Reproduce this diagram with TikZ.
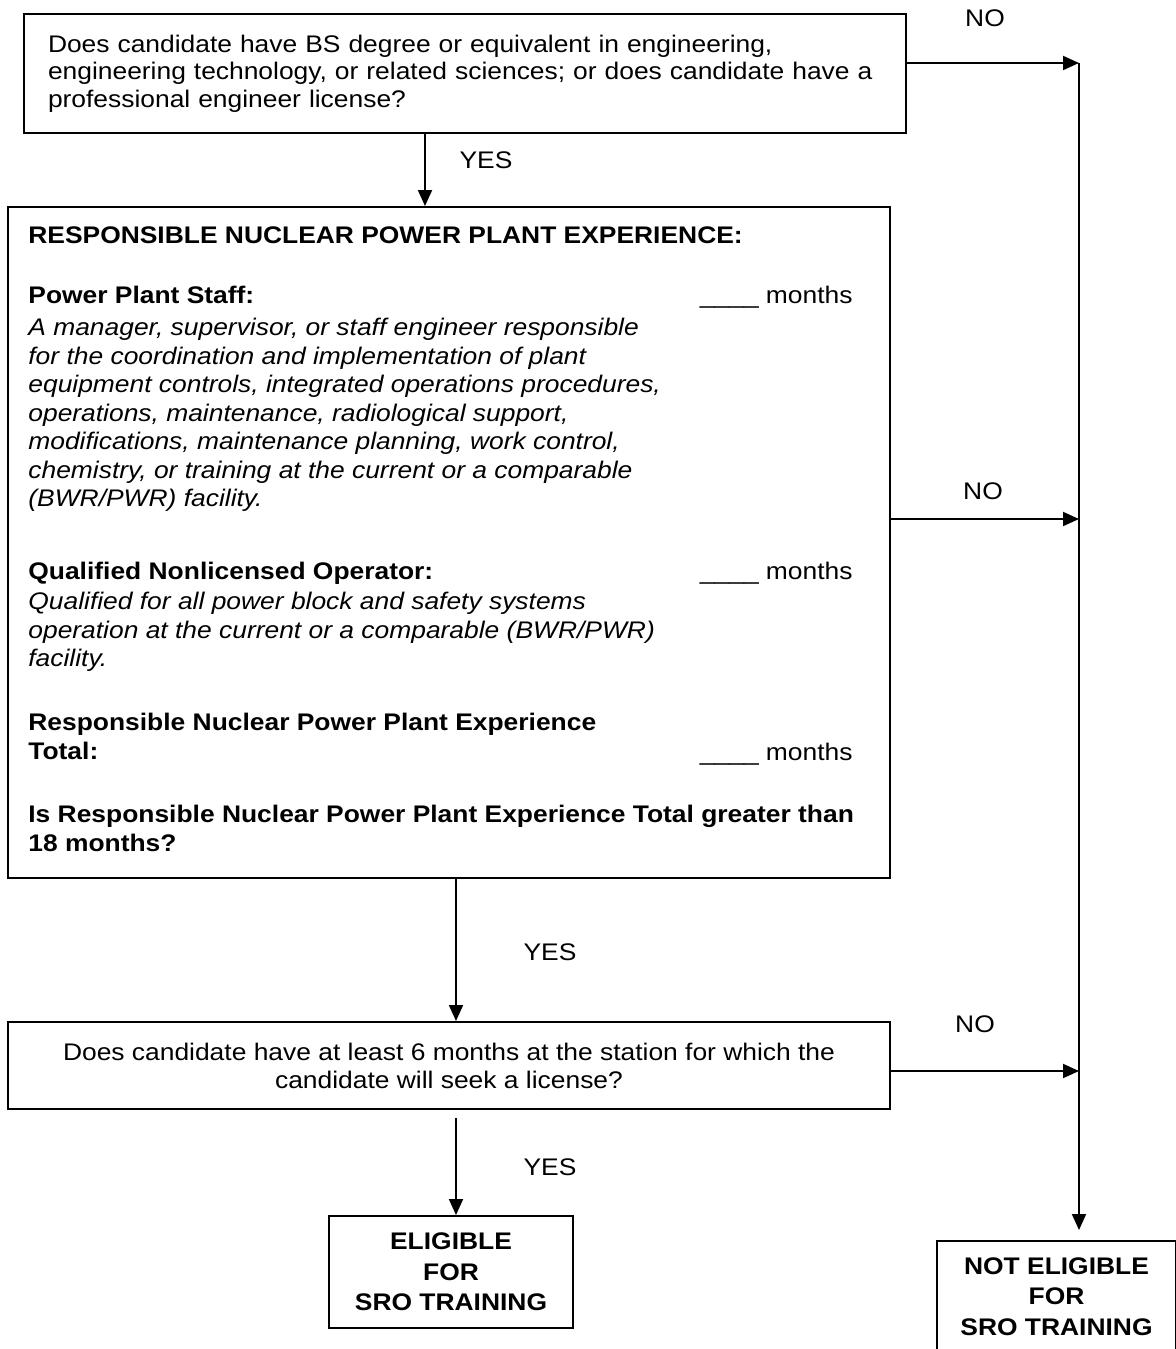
\documentclass[tikz,border=0pt]{standalone}
\usepackage{fontspec}
\setmainfont{Liberation Sans}[FakeStretch=1.1]
\usepackage{tikz}
\usetikzlibrary{arrows.meta,positioning}
\tikzstyle{box}=[draw,line width=1pt,inner sep=0pt]
\tikzstyle{txt}=[font=\fontsize{12pt}{14.25pt}\selectfont,inner sep=0pt]
\tikzstyle{btxt}=[font=\fontsize{12pt}{14.25pt}\selectfont\bfseries,inner sep=0pt]

\begin{document}
\begin{tikzpicture}[x=0.5pt,y=-0.5pt,
  flow/.style={line width=1pt,-{Triangle[length=8pt,width=7pt]}},
  para/.style={anchor=north west,align=left}]
\useasboundingbox (0,0) rectangle (1176,1349);

\node [box,txt,font=\fontsize{12pt}{13.75pt}\selectfont,minimum width=441pt,minimum height=59.5pt,
  text width=417pt,inner xsep=12pt,align=left] (degree) at (465,73.5)
  {Does candidate have BS degree or equivalent in engineering,\\
   engineering technology, or related sciences; or does candidate have a\\
   professional engineer license?};

\node [box,minimum width=441pt,minimum height=335.5pt] (exper) at (449,542.5) {};
\node [btxt,anchor=base west] (head) at (28,243) {RESPONSIBLE NUCLEAR POWER PLANT EXPERIENCE:};
\node [btxt,anchor=base west] (staff) at (28,303) {Power Plant Staff:};
\node [txt,anchor=base east] (staffm) at (853,303) {\_\_\_\_ months};
\node [txt,para,font=\fontsize{12pt}{14.25pt}\selectfont\itshape] (staffd) at (28,318)
  {A manager, supervisor, or staff engineer responsible\\
   for the coordination and implementation of plant\\
   equipment controls, integrated operations procedures,\\
   operations, maintenance, radiological support,\\
   modifications, maintenance planning, work control,\\
   chemistry, or training at the current or a comparable\\
   (BWR/PWR) facility.};
\node [btxt,anchor=base west] (nlo) at (28,579) {Qualified Nonlicensed Operator:};
\node [txt,anchor=base east] (nlom) at (853,579) {\_\_\_\_ months};
\node [txt,para,font=\fontsize{12pt}{14.25pt}\selectfont\itshape] (nlod) at (28,592)
  {Qualified for all power block and safety systems\\
   operation at the current or a comparable (BWR/PWR)\\
   facility.};
\node [btxt,para] (total) at (28,713)
  {Responsible Nuclear Power Plant Experience\\
   Total:};
\node [txt,anchor=base east] (totalm) at (853,760) {\_\_\_\_ months};
\node [btxt,para] (ask) at (28,805)
  {Is Responsible Nuclear Power Plant Experience Total greater than\\
   18 months?};

\node [box,txt,font=\fontsize{12pt}{14pt}\selectfont,minimum width=441pt,minimum height=43.5pt,align=center] (station) at (449,1065.5)
  {Does candidate have at least 6 months at the station for which the\\
   candidate will seek a license?};

\node [box,btxt,font=\fontsize{12pt}{15.25pt}\selectfont\bfseries,minimum width=122pt,minimum height=56pt,align=center] (elig) at (451,1272)
  {ELIGIBLE\\FOR\\SRO TRAINING};
\node [box,btxt,font=\fontsize{12pt}{15.25pt}\selectfont\bfseries,minimum width=119.5pt,minimum height=56pt,align=center] (notelig) at (1056.5,1296.5)
  {NOT ELIGIBLE\\FOR\\SRO TRAINING};

\node [txt] (yes1) at (486,160) {YES};
\node [txt] (yes2) at (550,952) {YES};
\node [txt] (yes3) at (550,1167) {YES};
\node [txt] (no1) at (985,18) {NO};
\node [txt] (no2) at (983,491) {NO};
\node [txt] (no3) at (975,1024) {NO};

\coordinate (busN) at (1079,63);
\coordinate (busS) at (1079,1230);
\coordinate (j2) at (1079,519);
\coordinate (j3) at (1079,1071);

\draw [flow] ([xshift=-20pt]degree.south) -- ([xshift=-20pt]degree.south |- exper.north);
\draw [flow] ([xshift=3.5pt]exper.south) -- ([xshift=3.5pt]exper.south |- station.north);
\draw [flow] ([xshift=3.5pt,yshift=-4pt]station.south) -- ([xshift=2.5pt]elig.north);
\draw [flow] (degree.east |- busN) -- (busN);
\draw [flow] (busN) -- (busS);
\draw [flow] (exper.east |- j2) -- (j2);
\draw [flow] (station.east |- j3) -- (j3);
\end{tikzpicture}
\end{document}
